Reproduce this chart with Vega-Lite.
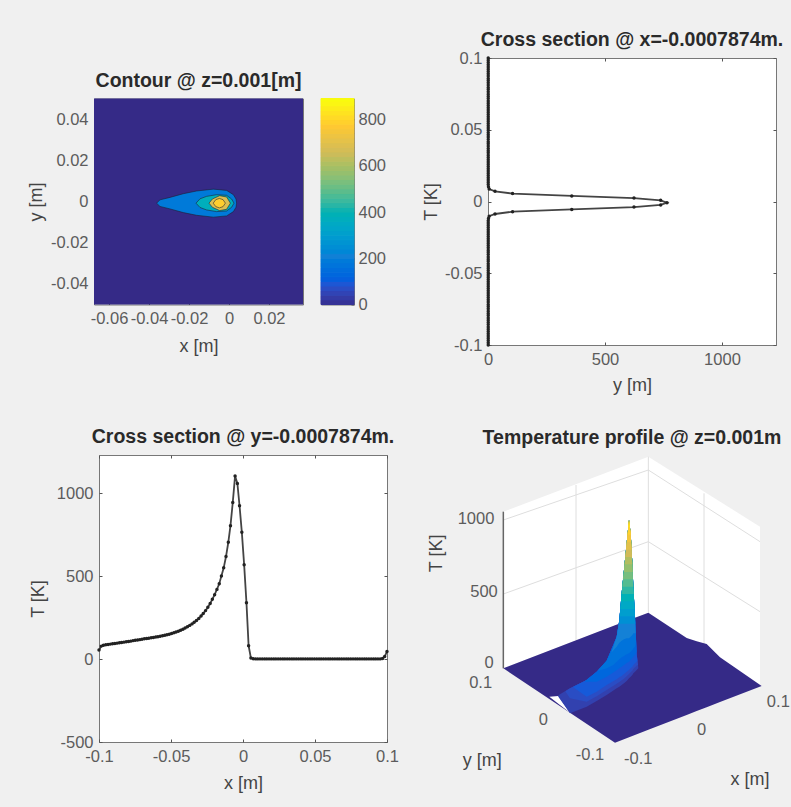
{
"$schema":"https://vega.github.io/schema/vega-lite/v6.json",
"background":"#f0f0f0",
"padding":{"left":26,"top":29,"right":1,"bottom":23},
"config":{
 "font":"Liberation Sans",
 "view":{"stroke":"#777"},
 "title":{"fontSize":19.5,"fontWeight":"bold","color":"#2a2a2a","anchor":"middle","offset":7},
 "axis":{"grid":false,"domain":false,"tickColor":"#555","tickSize":-3,"labelColor":"#5c5c5c","labelFontSize":16.5,"labelFontWeight":"normal","titleColor":"#444","titleFontSize":18,"titleFontWeight":"normal","labelOverlap":false,"labelFlush":false,"labelExpr":"datum.value+''","labelPadding":9}
},
"datasets":{
 "section":[
{"s":-0.1,"Tx":55,"Ty":1},{"s":-0.0984,"Tx":78,"Ty":1},{"s":-0.0969,"Tx":83,"Ty":1},{"s":-0.0953,"Tx":86,"Ty":1},{"s":-0.0937,"Tx":88,"Ty":1},{"s":-0.0921,"Tx":90,"Ty":1},{"s":-0.0906,"Tx":92,"Ty":1},{"s":-0.089,"Tx":94,"Ty":1},{"s":-0.0874,"Tx":96,"Ty":1},{"s":-0.0858,"Tx":98,"Ty":1},{"s":-0.0843,"Tx":100,"Ty":1},{"s":-0.0827,"Tx":102,"Ty":1},{"s":-0.0811,"Tx":104,"Ty":1},{"s":-0.0795,"Tx":106,"Ty":1},{"s":-0.078,"Tx":108,"Ty":1},{"s":-0.0764,"Tx":111,"Ty":1},{"s":-0.0748,"Tx":113,"Ty":1},{"s":-0.0732,"Tx":115,"Ty":1},{"s":-0.0717,"Tx":117,"Ty":1},{"s":-0.0701,"Tx":120,"Ty":1},{"s":-0.0685,"Tx":122,"Ty":1},{"s":-0.0669,"Tx":124,"Ty":1},{"s":-0.0654,"Tx":126,"Ty":1},{"s":-0.0638,"Tx":128,"Ty":1},{"s":-0.0622,"Tx":130,"Ty":1},{"s":-0.0606,"Tx":133,"Ty":1},{"s":-0.0591,"Tx":135,"Ty":1},{"s":-0.0575,"Tx":137,"Ty":1},{"s":-0.0559,"Tx":140,"Ty":1},{"s":-0.0543,"Tx":143,"Ty":1},{"s":-0.0528,"Tx":146,"Ty":1},{"s":-0.0512,"Tx":150,"Ty":1},{"s":-0.0496,"Tx":154,"Ty":1},{"s":-0.048,"Tx":158,"Ty":1},{"s":-0.0465,"Tx":163,"Ty":1},{"s":-0.0449,"Tx":168,"Ty":1},{"s":-0.0433,"Tx":174,"Ty":1},{"s":-0.0417,"Tx":180,"Ty":1},{"s":-0.0402,"Tx":187,"Ty":1},{"s":-0.0386,"Tx":195,"Ty":1},{"s":-0.037,"Tx":203,"Ty":1},{"s":-0.0354,"Tx":212,"Ty":1},{"s":-0.0339,"Tx":222,"Ty":1},{"s":-0.0323,"Tx":232,"Ty":1},{"s":-0.0307,"Tx":245,"Ty":1},{"s":-0.0291,"Tx":260,"Ty":1},{"s":-0.0276,"Tx":275,"Ty":1},{"s":-0.026,"Tx":292,"Ty":1},{"s":-0.0244,"Tx":312,"Ty":1},{"s":-0.0228,"Tx":335,"Ty":1},{"s":-0.0213,"Tx":360,"Ty":1},{"s":-0.0197,"Tx":388,"Ty":1},{"s":-0.0181,"Tx":420,"Ty":1},{"s":-0.0165,"Tx":454,"Ty":1},{"s":-0.015,"Tx":500,"Ty":1},{"s":-0.0134,"Tx":550,"Ty":1},{"s":-0.0118,"Tx":618,"Ty":2},{"s":-0.0102,"Tx":704,"Ty":5},{"s":-0.0087,"Tx":804,"Ty":30},{"s":-0.0071,"Tx":944,"Ty":105},{"s":-0.0055,"Tx":1104,"Ty":358},{"s":-0.0039,"Tx":1058,"Ty":624},{"s":-0.0024,"Tx":924,"Ty":738},{"s":-0.0008,"Tx":764,"Ty":765},{"s":0.0008,"Tx":568,"Ty":738},{"s":0.0024,"Tx":340,"Ty":624},{"s":0.0039,"Tx":80,"Ty":358},{"s":0.0055,"Tx":6,"Ty":105},{"s":0.0071,"Tx":2,"Ty":30},{"s":0.0087,"Tx":1,"Ty":5},{"s":0.0102,"Tx":1,"Ty":2},{"s":0.0118,"Tx":1,"Ty":1},{"s":0.0134,"Tx":1,"Ty":1},{"s":0.015,"Tx":1,"Ty":1},{"s":0.0165,"Tx":1,"Ty":1},{"s":0.0181,"Tx":1,"Ty":1},{"s":0.0197,"Tx":1,"Ty":1},{"s":0.0213,"Tx":1,"Ty":1},{"s":0.0228,"Tx":1,"Ty":1},{"s":0.0244,"Tx":1,"Ty":1},{"s":0.026,"Tx":1,"Ty":1},{"s":0.0276,"Tx":1,"Ty":1},{"s":0.0291,"Tx":1,"Ty":1},{"s":0.0307,"Tx":1,"Ty":1},{"s":0.0323,"Tx":1,"Ty":1},{"s":0.0339,"Tx":1,"Ty":1},{"s":0.0354,"Tx":1,"Ty":1},{"s":0.037,"Tx":1,"Ty":1},{"s":0.0386,"Tx":1,"Ty":1},{"s":0.0402,"Tx":1,"Ty":1},{"s":0.0417,"Tx":1,"Ty":1},{"s":0.0433,"Tx":1,"Ty":1},{"s":0.0449,"Tx":1,"Ty":1},{"s":0.0465,"Tx":1,"Ty":1},{"s":0.048,"Tx":1,"Ty":1},{"s":0.0496,"Tx":1,"Ty":1},{"s":0.0512,"Tx":1,"Ty":1},{"s":0.0528,"Tx":1,"Ty":1},{"s":0.0543,"Tx":1,"Ty":1},{"s":0.0559,"Tx":1,"Ty":1},{"s":0.0575,"Tx":1,"Ty":1},{"s":0.0591,"Tx":1,"Ty":1},{"s":0.0606,"Tx":1,"Ty":1},{"s":0.0622,"Tx":1,"Ty":1},{"s":0.0638,"Tx":1,"Ty":1},{"s":0.0654,"Tx":1,"Ty":1},{"s":0.0669,"Tx":1,"Ty":1},{"s":0.0685,"Tx":1,"Ty":1},{"s":0.0701,"Tx":1,"Ty":1},{"s":0.0717,"Tx":1,"Ty":1},{"s":0.0732,"Tx":1,"Ty":1},{"s":0.0748,"Tx":1,"Ty":1},{"s":0.0764,"Tx":1,"Ty":1},{"s":0.078,"Tx":1,"Ty":1},{"s":0.0795,"Tx":1,"Ty":1},{"s":0.0811,"Tx":1,"Ty":1},{"s":0.0827,"Tx":1,"Ty":1},{"s":0.0843,"Tx":1,"Ty":1},{"s":0.0858,"Tx":1,"Ty":1},{"s":0.0874,"Tx":1,"Ty":1},{"s":0.089,"Tx":1,"Ty":1},{"s":0.0906,"Tx":1,"Ty":1},{"s":0.0921,"Tx":1,"Ty":1},{"s":0.0937,"Tx":1,"Ty":1},{"s":0.0953,"Tx":1,"Ty":1},{"s":0.0969,"Tx":3,"Ty":1},{"s":0.0984,"Tx":15,"Ty":1},{"s":0.1,"Tx":45,"Ty":1}
 ],
 "contours":[
{"level":223,"x":-0.0362,"top":-0.0008,"bot":-0.0008},{"level":223,"x":-0.0345,"top":0.0008,"bot":-0.0024},{"level":223,"x":-0.0295,"top":0.002,"bot":-0.0036},{"level":223,"x":-0.0228,"top":0.0038,"bot":-0.0054},{"level":223,"x":-0.0162,"top":0.0051,"bot":-0.0067},{"level":223,"x":-0.0078,"top":0.006,"bot":-0.0076},{"level":223,"x":-0.0012,"top":0.0054,"bot":-0.007},{"level":223,"x":0.0022,"top":0.0033,"bot":-0.0049},{"level":223,"x":0.0035,"top":0.0012,"bot":-0.0028},{"level":223,"x":0.0038,"top":-0.0008,"bot":-0.0008},
{"level":430,"x":-0.0165,"top":-0.0008,"bot":-0.0008},{"level":430,"x":-0.0145,"top":0.0013,"bot":-0.0029},{"level":430,"x":-0.0112,"top":0.0025,"bot":-0.0041},{"level":430,"x":-0.0062,"top":0.0033,"bot":-0.0049},{"level":430,"x":-0.0012,"top":0.003,"bot":-0.0046},{"level":430,"x":0.0013,"top":0.0012,"bot":-0.0028},{"level":430,"x":0.0025,"top":-0.0008,"bot":-0.0008},
{"level":780,"x":-0.01,"top":-0.0008,"bot":-0.0008},{"level":780,"x":-0.0083,"top":0.0012,"bot":-0.0028},{"level":780,"x":-0.0047,"top":0.0028,"bot":-0.0044},{"level":780,"x":-0.0012,"top":0.0022,"bot":-0.0038},{"level":780,"x":0.0007,"top":-0.0008,"bot":-0.0008},
{"level":891,"x":-0.0079,"top":-0.0008,"bot":-0.0008},{"level":891,"x":-0.0066,"top":0.0009,"bot":-0.0025},{"level":891,"x":-0.0048,"top":0.0015,"bot":-0.0031},{"level":891,"x":-0.003,"top":0.0009,"bot":-0.0025},{"level":891,"x":-0.0018,"top":-0.0008,"bot":-0.0008}
 ],
 "surface":[
{"level":60,"sx":415,"top":826,"bot":830},{"level":60,"sx":450,"top":805,"bot":880},{"level":60,"sx":500,"top":780,"bot":860},{"level":60,"sx":530,"top":755,"bot":843},{"level":60,"sx":560,"top":722,"bot":825},{"level":60,"sx":590,"top":650,"bot":805},{"level":60,"sx":598,"top":600,"bot":800},{"level":60,"sx":605,"top":520,"bot":795},{"level":60,"sx":612,"top":450,"bot":790},{"level":60,"sx":620,"top":370,"bot":783},{"level":60,"sx":627,"top":300,"bot":775},{"level":60,"sx":632,"top":340,"bot":770},{"level":60,"sx":637,"top":430,"bot":765},{"level":60,"sx":640,"top":500,"bot":760},{"level":60,"sx":645,"top":590,"bot":755},{"level":60,"sx":650,"top":700,"bot":750},{"level":60,"sx":655,"top":745,"bot":745},
{"level":90,"sx":437,"top":813,"bot":815},{"level":90,"sx":450,"top":805,"bot":835},{"level":90,"sx":500,"top":780,"bot":845},{"level":90,"sx":530,"top":755,"bot":829},{"level":90,"sx":560,"top":722,"bot":810},{"level":90,"sx":590,"top":650,"bot":791},{"level":90,"sx":598,"top":600,"bot":786},{"level":90,"sx":605,"top":520,"bot":781},{"level":90,"sx":612,"top":450,"bot":776},{"level":90,"sx":620,"top":370,"bot":769},{"level":90,"sx":627,"top":300,"bot":762},{"level":90,"sx":632,"top":340,"bot":757},{"level":90,"sx":637,"top":430,"bot":752},{"level":90,"sx":640,"top":500,"bot":747},{"level":90,"sx":645,"top":590,"bot":742},{"level":90,"sx":650,"top":700,"bot":737},{"level":90,"sx":654,"top":735,"bot":735},
{"level":120,"sx":460,"top":800,"bot":802},{"level":120,"sx":500,"top":780,"bot":830},{"level":120,"sx":530,"top":755,"bot":815},{"level":120,"sx":560,"top":722,"bot":795},{"level":120,"sx":590,"top":650,"bot":778},{"level":120,"sx":598,"top":600,"bot":772},{"level":120,"sx":605,"top":520,"bot":768},{"level":120,"sx":612,"top":450,"bot":762},{"level":120,"sx":620,"top":370,"bot":755},{"level":120,"sx":627,"top":300,"bot":750},{"level":120,"sx":632,"top":340,"bot":745},{"level":120,"sx":637,"top":430,"bot":740},{"level":120,"sx":640,"top":500,"bot":735},{"level":120,"sx":645,"top":590,"bot":730},{"level":120,"sx":650,"top":700,"bot":725},{"level":120,"sx":652,"top":722,"bot":722},
{"level":160,"sx":495,"top":783,"bot":785},{"level":160,"sx":530,"top":755,"bot":785},{"level":160,"sx":560,"top":722,"bot":770},{"level":160,"sx":590,"top":650,"bot":751},{"level":160,"sx":598,"top":600,"bot":745},{"level":160,"sx":605,"top":520,"bot":740},{"level":160,"sx":612,"top":450,"bot":735},{"level":160,"sx":620,"top":370,"bot":729},{"level":160,"sx":627,"top":300,"bot":725},{"level":160,"sx":632,"top":340,"bot":720},{"level":160,"sx":637,"top":430,"bot":715},{"level":160,"sx":640,"top":500,"bot":710},{"level":160,"sx":645,"top":590,"bot":705},{"level":160,"sx":650,"top":695,"bot":695},
{"level":200,"sx":535,"top":750,"bot":752},{"level":200,"sx":560,"top":722,"bot":745},{"level":200,"sx":580,"top":680,"bot":735},{"level":200,"sx":590,"top":650,"bot":725},{"level":200,"sx":598,"top":600,"bot":718},{"level":200,"sx":605,"top":520,"bot":712},{"level":200,"sx":612,"top":450,"bot":708},{"level":200,"sx":620,"top":370,"bot":703},{"level":200,"sx":627,"top":300,"bot":700},{"level":200,"sx":632,"top":340,"bot":695},{"level":200,"sx":637,"top":430,"bot":690},{"level":200,"sx":640,"top":500,"bot":685},{"level":200,"sx":645,"top":590,"bot":680},{"level":200,"sx":648,"top":665,"bot":665},
{"level":250,"sx":575,"top":695,"bot":697},{"level":250,"sx":590,"top":650,"bot":680},{"level":250,"sx":598,"top":600,"bot":668},{"level":250,"sx":605,"top":520,"bot":662},{"level":250,"sx":612,"top":450,"bot":658},{"level":250,"sx":620,"top":370,"bot":655},{"level":250,"sx":627,"top":300,"bot":655},{"level":250,"sx":632,"top":340,"bot":650},{"level":250,"sx":637,"top":430,"bot":645},{"level":250,"sx":640,"top":500,"bot":640},{"level":250,"sx":647,"top":640,"bot":640},
{"level":300,"sx":597,"top":611,"bot":611},{"level":300,"sx":605,"top":520,"bot":611},{"level":300,"sx":612,"top":450,"bot":611},{"level":300,"sx":620,"top":370,"bot":611},{"level":300,"sx":627,"top":300,"bot":611},{"level":300,"sx":632,"top":340,"bot":611},{"level":300,"sx":637,"top":430,"bot":611},{"level":300,"sx":640,"top":500,"bot":611},{"level":300,"sx":646,"top":611,"bot":611},
{"level":350,"sx":599,"top":589,"bot":589},{"level":350,"sx":605,"top":520,"bot":589},{"level":350,"sx":612,"top":450,"bot":589},{"level":350,"sx":620,"top":370,"bot":589},{"level":350,"sx":627,"top":300,"bot":589},{"level":350,"sx":632,"top":340,"bot":589},{"level":350,"sx":637,"top":430,"bot":589},{"level":350,"sx":640,"top":500,"bot":589},{"level":350,"sx":645,"top":589,"bot":589},
{"level":400,"sx":601,"top":567,"bot":567},{"level":400,"sx":605,"top":520,"bot":567},{"level":400,"sx":612,"top":450,"bot":567},{"level":400,"sx":620,"top":370,"bot":567},{"level":400,"sx":627,"top":300,"bot":567},{"level":400,"sx":632,"top":340,"bot":567},{"level":400,"sx":637,"top":430,"bot":567},{"level":400,"sx":640,"top":500,"bot":567},{"level":400,"sx":644,"top":567,"bot":567},
{"level":450,"sx":603,"top":544,"bot":544},{"level":450,"sx":605,"top":520,"bot":544},{"level":450,"sx":612,"top":450,"bot":544},{"level":450,"sx":620,"top":370,"bot":544},{"level":450,"sx":627,"top":300,"bot":544},{"level":450,"sx":632,"top":340,"bot":544},{"level":450,"sx":637,"top":430,"bot":544},{"level":450,"sx":640,"top":500,"bot":544},{"level":450,"sx":642.4,"top":544,"bot":544},
{"level":500,"sx":604.5,"top":522,"bot":522},{"level":500,"sx":612,"top":450,"bot":522},{"level":500,"sx":620,"top":370,"bot":522},{"level":500,"sx":627,"top":300,"bot":522},{"level":500,"sx":632,"top":340,"bot":522},{"level":500,"sx":637,"top":430,"bot":522},{"level":500,"sx":640,"top":500,"bot":522},{"level":500,"sx":641.5,"top":522,"bot":522},
{"level":550,"sx":606.7,"top":500,"bot":500},{"level":550,"sx":612,"top":450,"bot":500},{"level":550,"sx":620,"top":370,"bot":500},{"level":550,"sx":627,"top":300,"bot":500},{"level":550,"sx":632,"top":340,"bot":500},{"level":550,"sx":637,"top":430,"bot":500},{"level":550,"sx":640,"top":500,"bot":500},
{"level":600,"sx":608.5,"top":478,"bot":478},{"level":600,"sx":612,"top":450,"bot":478},{"level":600,"sx":620,"top":370,"bot":478},{"level":600,"sx":627,"top":300,"bot":478},{"level":600,"sx":632,"top":340,"bot":478},{"level":600,"sx":637,"top":430,"bot":478},{"level":600,"sx":638.5,"top":478,"bot":478},
{"level":650,"sx":611.4,"top":456,"bot":456},{"level":650,"sx":612,"top":450,"bot":456},{"level":650,"sx":620,"top":370,"bot":456},{"level":650,"sx":627,"top":300,"bot":456},{"level":650,"sx":632,"top":340,"bot":456},{"level":650,"sx":637,"top":430,"bot":456},{"level":650,"sx":637.9,"top":456,"bot":456},
{"level":700,"sx":613.7,"top":433,"bot":433},{"level":700,"sx":620,"top":370,"bot":433},{"level":700,"sx":627,"top":300,"bot":433},{"level":700,"sx":632,"top":340,"bot":433},{"level":700,"sx":637,"top":433,"bot":433},
{"level":750,"sx":616,"top":411,"bot":411},{"level":750,"sx":620,"top":370,"bot":411},{"level":750,"sx":627,"top":300,"bot":411},{"level":750,"sx":632,"top":340,"bot":411},{"level":750,"sx":636,"top":411,"bot":411},
{"level":800,"sx":618,"top":389,"bot":389},{"level":800,"sx":620,"top":370,"bot":389},{"level":800,"sx":627,"top":300,"bot":389},{"level":800,"sx":632,"top":340,"bot":389},{"level":800,"sx":635,"top":389,"bot":389},
{"level":850,"sx":620.3,"top":367,"bot":367},{"level":850,"sx":627,"top":300,"bot":367},{"level":850,"sx":632,"top":340,"bot":367},{"level":850,"sx":633.5,"top":367,"bot":367},
{"level":900,"sx":623,"top":344,"bot":344},{"level":900,"sx":627,"top":300,"bot":344},{"level":900,"sx":632,"top":344,"bot":344},
{"level":950,"sx":624.8,"top":322,"bot":322},{"level":950,"sx":627,"top":300,"bot":322},{"level":950,"sx":629.75,"top":322,"bot":322}
 ]
},
"spacing":31,
"vconcat":[
{
"hconcat":[
 {"title":"Contour @ z=0.001[m]","width":209,"height":206,
  "layer":[
   {"data":{"values":[{"x":-0.0675,"top":0.05,"bot":-0.05,"level":0},{"x":0.037,"top":0.05,"bot":-0.05,"level":0}]},
    "mark":{"type":"area","orient":"vertical"},
    "encoding":{
     "x":{"field":"x","type":"quantitative","scale":{"domain":[-0.0675,0.037],"nice":false,"zero":false},"axis":{"values":[-0.06,-0.04,-0.02,0,0.02],"title":"x [m]","titlePadding":10}},
     "y":{"field":"top","type":"quantitative","scale":{"domain":[-0.05,0.05],"nice":false,"zero":false},"axis":{"values":[-0.04,-0.02,0,0.02,0.04],"title":"y [m]","titlePadding":5}},
     "y2":{"field":"bot"},
     "color":{"field":"level","type":"quantitative","legend":null,"scale":{"domain":[0,111,223,334,446,557,668,780,891],"range":["#352a87","#0f5cdd","#1481d6","#06a4ca","#2eb7a4","#87bf77","#d1bb59","#fec832","#f9fb0e"]}}
    }},
   {"data":{"name":"contours"},
    "mark":{"type":"area","orient":"vertical","stroke":"#1c1c2c","strokeWidth":0.8,"strokeOpacity":0.7},
    "encoding":{
     "x":{"field":"x","type":"quantitative"},
     "y":{"field":"top","type":"quantitative"},
     "y2":{"field":"bot"},
     "detail":{"field":"level"},
     "color":{"field":"level","type":"quantitative","legend":null}
    }}
  ]},
 {"width":33,"height":206,
  "data":{"values":[{"v":0,"v2":20},{"v":20,"v2":40},{"v":40,"v2":60},{"v":60,"v2":80},{"v":80,"v2":100},{"v":100,"v2":120},{"v":120,"v2":140},{"v":140,"v2":160},{"v":160,"v2":180},{"v":180,"v2":200},{"v":200,"v2":220},{"v":220,"v2":240},{"v":240,"v2":260},{"v":260,"v2":280},{"v":280,"v2":300},{"v":300,"v2":320},{"v":320,"v2":340},{"v":340,"v2":360},{"v":360,"v2":380},{"v":380,"v2":400},{"v":400,"v2":420},{"v":420,"v2":440},{"v":440,"v2":460},{"v":460,"v2":480},{"v":480,"v2":500},{"v":500,"v2":520},{"v":520,"v2":540},{"v":540,"v2":560},{"v":560,"v2":580},{"v":580,"v2":600},{"v":600,"v2":620},{"v":620,"v2":640},{"v":640,"v2":660},{"v":660,"v2":680},{"v":680,"v2":700},{"v":700,"v2":720},{"v":720,"v2":740},{"v":740,"v2":760},{"v":760,"v2":780},{"v":780,"v2":800},{"v":800,"v2":820},{"v":820,"v2":840},{"v":840,"v2":860},{"v":860,"v2":880},{"v":880,"v2":891}]},
  "mark":{"type":"rect"},
  "encoding":{
   "y":{"field":"v","type":"quantitative","scale":{"domain":[0,891],"nice":false,"zero":false},"axis":{"orient":"right","values":[0,200,400,600,800],"title":null,"labelPadding":7}},
   "y2":{"field":"v2"},
   "fill":{"field":"v2","type":"quantitative","legend":null,"scale":{"domain":[0,111,223,334,446,557,668,780,891],"range":["#352a87","#0f5cdd","#1481d6","#06a4ca","#2eb7a4","#87bf77","#d1bb59","#fec832","#f9fb0e"]}},
   "stroke":{"field":"v2","type":"quantitative","legend":null,"scale":{"domain":[0,111,223,334,446,557,668,780,891],"range":["#352a87","#0f5cdd","#1481d6","#06a4ca","#2eb7a4","#87bf77","#d1bb59","#fec832","#f9fb0e"]}}
  }},
 {"width":98,"height":100,"view":{"stroke":null},"data":{"values":[{"a":0}]},"mark":{"type":"point","opacity":0},"encoding":{}},
 {"title":{"text":"Cross section @ x=-0.0007874m.","offset":0},"width":288,"height":287,"view":{"fill":"#ffffff"},
  "data":{"name":"section"},
  "layer":[
   {"mark":{"type":"line","color":"#444","strokeWidth":1.8},
    "encoding":{
     "x":{"field":"Ty","type":"quantitative","scale":{"domain":[0,1231],"nice":false,"zero":false},"axis":{"values":[0,500,1000],"title":"y [m]","titlePadding":9}},
     "y":{"field":"s","type":"quantitative","scale":{"domain":[-0.1,0.1],"nice":false,"zero":false},"axis":{"values":[-0.1,-0.05,0,0.05,0.1],"title":"T [K]","titlePadding":4}},
     "order":{"field":"s"}
    }},
   {"mark":{"type":"point","filled":true,"color":"#222","size":12,"opacity":1},
    "encoding":{
     "x":{"field":"Ty","type":"quantitative","axis":{"orient":"top","values":[0,500,1000],"labels":false,"title":null}},
     "y":{"field":"s","type":"quantitative","axis":{"orient":"right","values":[-0.1,-0.05,0,0.05,0.1],"labels":false,"title":null}}
    }}
  ],
  "resolve":{"axis":{"x":"independent","y":"independent"}}
 }
],
"spacing":18,"center":true,"bounds":"flush"
},
{
"hconcat":[
 {"width":1,"height":100,"view":{"stroke":null},"data":{"values":[{"a":0}]},"mark":{"type":"point","opacity":0},"encoding":{}},
 {"title":"Cross section @ y=-0.0007874m.","width":288,"height":287,"view":{"fill":"#ffffff"},
  "data":{"name":"section"},
  "layer":[
   {"mark":{"type":"line","color":"#444","strokeWidth":1.8},
    "encoding":{
     "x":{"field":"s","type":"quantitative","scale":{"domain":[-0.1,0.1],"nice":false,"zero":false},"axis":{"values":[-0.1,-0.05,0,0.05,0.1],"title":"x [m]","titlePadding":10}},
     "y":{"field":"Tx","type":"quantitative","scale":{"domain":[-500,1230],"nice":false,"zero":false},"axis":{"values":[-500,0,500,1000],"title":"T [K]","titlePadding":9}}
    }},
   {"mark":{"type":"point","filled":true,"color":"#222","size":12,"opacity":1},
    "encoding":{
     "x":{"field":"s","type":"quantitative","axis":{"orient":"top","values":[-0.1,-0.05,0,0.05,0.1],"labels":false,"title":null}},
     "y":{"field":"Tx","type":"quantitative","axis":{"orient":"right","values":[-500,0,500,1000],"labels":false,"title":null}}
    }}
  ],
  "resolve":{"axis":{"x":"independent","y":"independent"}}
 },
 {"title":{"text":"Temperature profile @ z=0.001m","dx":41},"width":400,"height":287,"view":{"stroke":null},
  "layer":[
   {"data":{"values":[{"wall":"a","sx":250,"top":275,"bot":745},{"wall":"a","sx":685,"top":110,"bot":578},{"wall":"b","sx":685,"top":110,"bot":578},{"wall":"b","sx":1020,"top":320,"bot":798}]},
    "mark":{"type":"area","orient":"vertical","color":"#ffffff"},
    "encoding":{
     "x":{"field":"sx","type":"quantitative","scale":{"domain":[-87,1113],"nice":false,"zero":false},"axis":null},
     "y":{"field":"top","type":"quantitative","scale":{"domain":[966,105],"nice":false,"zero":false},"axis":null},
     "y2":{"field":"bot"},
     "detail":{"field":"wall"}
    }},
   {"data":{"values":[{"sx":250,"sy":522,"sx2":685,"sy2":365},{"sx":250,"sy":300,"sx2":685,"sy2":150},{"sx":685,"sy":150,"sx2":1020,"sy2":365},{"sx":685,"sy":365,"sx2":1020,"sy2":575},{"sx":468,"sy":195,"sx2":468,"sy2":660},{"sx":852,"sy":220,"sx2":852,"sy2":680},{"sx":685,"sy":110,"sx2":685,"sy2":578}]},
    "mark":{"type":"rule","color":"#dedede","strokeWidth":1},
    "encoding":{"x":{"field":"sx","type":"quantitative"},"y":{"field":"sy","type":"quantitative"},"x2":{"field":"sx2"},"y2":{"field":"sy2"}}},
   {"data":{"values":[{"sx":250,"top":745,"bot":745},{"sx":585,"top":616,"bot":968},{"sx":685,"top":578,"bot":929},{"sx":800,"top":654,"bot":885},{"sx":830,"top":664,"bot":873},{"sx":860,"top":672,"bot":862},{"sx":900,"top":712,"bot":846},{"sx":1025,"top":798,"bot":798}]},
    "mark":{"type":"area","orient":"vertical","color":"#352a87"},
    "encoding":{"x":{"field":"sx","type":"quantitative"},"y":{"field":"top","type":"quantitative"},"y2":{"field":"bot"}}},
   {"data":{"values":[{"sx":388,"top":830,"bot":830},{"sx":415,"top":828,"bot":851},{"sx":450,"top":878,"bot":878}]},
    "mark":{"type":"area","orient":"vertical","color":"#ffffff"},
    "encoding":{"x":{"field":"sx","type":"quantitative"},"y":{"field":"top","type":"quantitative"},"y2":{"field":"bot"}}},
   {"data":{"name":"surface"},
    "mark":{"type":"area","orient":"vertical"},
    "encoding":{
     "x":{"field":"sx","type":"quantitative"},"y":{"field":"top","type":"quantitative"},"y2":{"field":"bot"},
     "detail":{"field":"level"},
     "color":{"field":"level","type":"quantitative","legend":null,"scale":{"domain":[0,125,250,375,500,625,750,875,1000],"range":["#352a87","#0f5cdd","#1481d6","#06a4ca","#2eb7a4","#87bf77","#d1bb59","#fec832","#f9fb0e"]}}
    }},
   {"data":{"values":[{"sx":250,"sy":275,"sx2":250,"sy2":745}]},
    "mark":{"type":"rule","color":"#666","strokeWidth":1.5},
    "encoding":{"x":{"field":"sx","type":"quantitative"},"y":{"field":"sy","type":"quantitative"},"x2":{"field":"sx2"},"y2":{"field":"sy2"}}},
   {"data":{"values":[{"t":"1000","sx":168,"sy":298},{"t":"500","sx":192,"sy":515},{"t":"0","sx":207,"sy":730},{"t":"0.1","sx":182,"sy":790},{"t":"0","sx":370,"sy":900},{"t":"-0.1","sx":510,"sy":1005},{"t":"-0.1","sx":655,"sy":1018},{"t":"0","sx":845,"sy":930},{"t":"0.1","sx":1075,"sy":845}]},
    "mark":{"type":"text","color":"#5c5c5c","fontSize":16.5,"align":"center","baseline":"middle"},
    "encoding":{"x":{"field":"sx","type":"quantitative"},"y":{"field":"sy","type":"quantitative"},"text":{"field":"t"}}},
   {"data":{"values":[{"t":"y [m]","sx":187,"sy":1022},{"t":"x [m]","sx":990,"sy":1080}]},
    "mark":{"type":"text","color":"#444","fontSize":18,"align":"center","baseline":"middle"},
    "encoding":{"x":{"field":"sx","type":"quantitative"},"y":{"field":"sy","type":"quantitative"},"text":{"field":"t"}}},
   {"data":{"values":[{"t":"T [K]","sx":50,"sy":400}]},
    "mark":{"type":"text","color":"#444","fontSize":18,"align":"center","baseline":"middle","angle":270},
    "encoding":{"x":{"field":"sx","type":"quantitative"},"y":{"field":"sy","type":"quantitative"},"text":{"field":"t"}}}
  ]
 }
],
"spacing":4,"bounds":"flush"
}
]
}
